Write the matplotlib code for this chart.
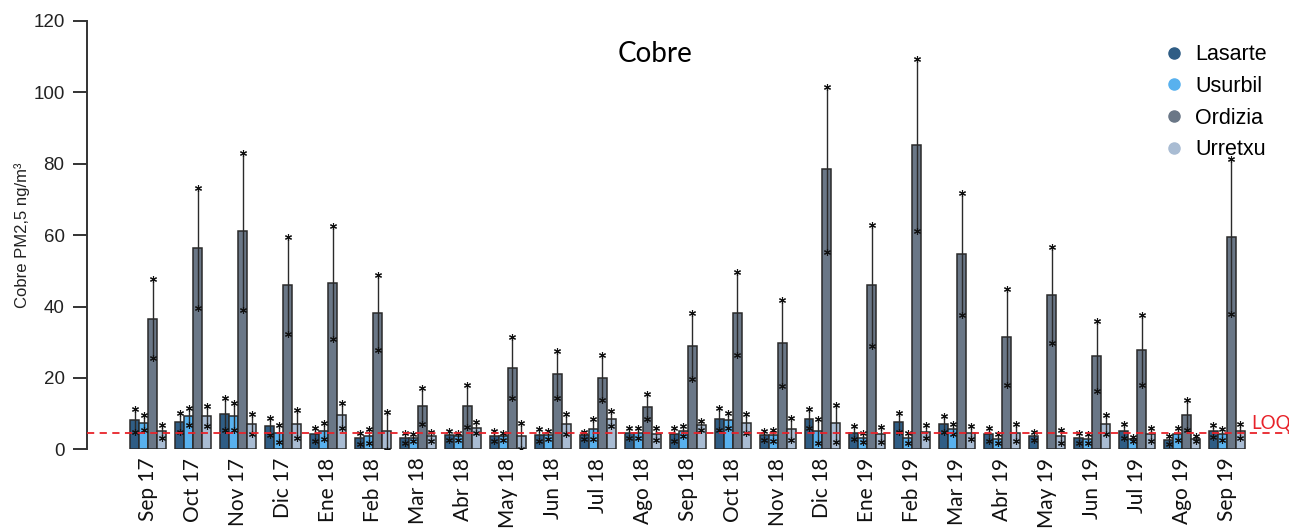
"""Monthly PM2.5 copper at four Gipuzkoa sites, mean +/- sd per month.

Grouped bars (Lasarte, Usurbil, Ordizia, Urretxu) with the LOQ as a dashed line.
Output: out.png
"""
import numpy as np
import matplotlib.pyplot as plt
from matplotlib.lines import Line2D

MONTHS = ["Sep 17", "Oct 17", "Nov 17", "Dic 17", "Ene 18", "Feb 18", "Mar 18", "Abr 18",
          "May 18", "Jun 18", "Jul 18", "Ago 18", "Sep 18", "Oct 18", "Nov 18", "Dic 18",
          "Ene 19", "Feb 19", "Mar 19", "Abr 19", "May 19", "Jun 19", "Jul 19", "Ago 19", "Sep 19"]
SITES = ["Lasarte", "Usurbil", "Ordizia", "Urretxu"]

LASARTE = [8.1, 7.6, 10.0, 6.4, 4.2, 3.1, 3.3, 3.9, 3.7, 3.9, 3.9, 4.7, 4.2,
           8.6, 3.9, 8.6, 4.7, 7.6, 7.0, 4.2, 3.7, 3.3, 5.1, 2.6, 5.1]
LASARTE_SD = [3.3, 2.7, 4.5, 2.5, 1.9, 1.6, 1.4, 1.2, 1.3, 1.7, 1.0, 1.4, 1.9,
              3.1, 1.2, 2.6, 1.8, 2.7, 2.2, 1.9, 1.2, 1.4, 1.9, 1.0, 1.6]
USURBIL = [7.5, 9.3, 9.3, 4.5, 5.1, 3.7, 3.3, 3.6, 3.7, 3.9, 5.6, 4.7, 5.1,
           8.2, 3.9, 5.1, 3.3, 3.3, 5.6, 3.0, np.nan, 3.0, 2.8, 4.2, 4.2]
USURBIL_SD = [2.2, 2.4, 3.8, 2.4, 2.3, 1.9, 1.0, 0.9, 1.0, 1.1, 2.8, 1.4, 1.3,
              2.1, 1.5, 3.3, 1.3, 1.4, 1.4, 1.2, np.nan, 1.2, 0.6, 1.7, 1.5]
ORDIZIA = [36.6, 56.3, 61.1, 45.9, 46.7, 38.3, 12.1, 12.1, 22.9, 21.0, 20.0, 11.9, 28.9,
           38.1, 29.7, 78.4, 45.9, 85.2, 54.8, 31.5, 43.2, 26.1, 27.7, 9.6, 59.6]
ORDIZIA_SD = [11.0, 16.8, 22.0, 13.6, 15.8, 10.6, 5.1, 5.8, 8.5, 6.5, 6.3, 3.5, 9.3,
              11.6, 12.0, 23.2, 17.0, 24.0, 17.1, 13.5, 13.5, 9.8, 9.8, 4.3, 21.8]
URRETXU = [5.1, 9.3, 7.1, 7.1, 9.6, 5.1, 3.6, 6.1, 3.7, 7.0, 8.6, 4.2, 6.7,
           7.3, 5.6, 7.3, 4.2, 4.9, 4.7, 4.7, 3.7, 7.0, 4.2, 3.0, 5.1]
URRETXU_SD = [1.8, 2.9, 2.8, 4.0, 3.5, 5.3, 1.3, 1.5, 3.6, 2.8, 2.1, 1.7, 1.2,
              2.6, 3.1, 5.2, 2.1, 1.8, 1.7, 2.3, 1.8, 2.7, 1.8, 0.8, 1.9]
LOQ = 4.5

COLOURS = ["#2f5d85", "#58b1ee", "#6a7787", "#a9bcd3"]
EDGE = "#2a2a2a"


def plot_cobre(filename: str) -> None:
    means = [LASARTE, USURBIL, ORDIZIA, URRETXU]
    sds = [LASARTE_SD, USURBIL_SD, ORDIZIA_SD, URRETXU_SD]
    x = np.arange(len(MONTHS))
    width = 0.2
    offsets = [-1.5 * width, -0.5 * width, 0.5 * width, 1.5 * width]

    fig = plt.figure(figsize=(12.89, 5.28), dpi=100)
    ax = fig.add_axes([0.0673, 0.149, 0.9327, 0.8115])

    for mean, sd, off, colour in zip(means, sds, offsets, COLOURS):
        m = np.array(mean, dtype=float)
        s = np.array(sd, dtype=float)
        ok = ~np.isnan(m)
        xs = x[ok] + off
        ax.bar(xs, m[ok], width=width, color=colour, edgecolor=EDGE, linewidth=1.1, zorder=2)
        ax.vlines(xs, m[ok] - s[ok], m[ok] + s[ok], color=EDGE, linewidth=1.0, zorder=3)
        ends = np.concatenate([m[ok] - s[ok], m[ok] + s[ok]])
        ax.plot(np.concatenate([xs, xs]), ends, ls="none", marker=(6, 2, 0),
                markersize=5, markeredgewidth=0.8, color="#111111", zorder=4)

    ax.axhline(LOQ, color="#e8232a", linestyle=(0, (4, 3)), linewidth=1.3, zorder=5)
    ax.text(24.53, 7.3, "LOQ", color="#e8232a", fontsize=13.5, family="Lato",
            ha="left", va="center")
    ax.text(11.27, 110.6, "Cobre", fontsize=20, family="Lato", ha="center", va="center")

    ax.set_xlim(-1.37, 25.38)
    ax.set_ylim(0, 120)
    ax.set_yticks(range(0, 121, 20))
    ax.set_xticks(x)
    ax.set_xticklabels(MONTHS, rotation=90, fontsize=15, family="Lato", color="#111111")
    ax.tick_params(axis="x", length=0, pad=6)
    ax.tick_params(axis="y", length=10, width=1.4, color="#333333", labelsize=13.5,
                   labelcolor="#222222", pad=6)
    for lab in ax.get_yticklabels():
        lab.set_family("Liberation Sans")
    for side in ["top", "right", "bottom"]:
        ax.spines[side].set_visible(False)
    ax.spines["left"].set_color("#333333")
    ax.spines["left"].set_linewidth(1.4)
    ax.set_ylabel("Cobre PM2,5 ng/m³", fontsize=12, family="Liberation Sans", color="#222222",
                  labelpad=2)

    handles = [Line2D([], [], ls="none", marker="o", markersize=8, color=c) for c in COLOURS]
    ax.legend(handles, SITES, loc="upper left", bbox_to_anchor=(0.888, 0.971),
              frameon=False, handlelength=0.8, handletextpad=0.6,
              labelspacing=0.5, borderpad=0, prop={"family": "Liberation Sans", "size": 15.5})

    fig.savefig(filename, dpi=100)
    plt.close(fig)


if __name__ == "__main__":
    plot_cobre("out.png")
